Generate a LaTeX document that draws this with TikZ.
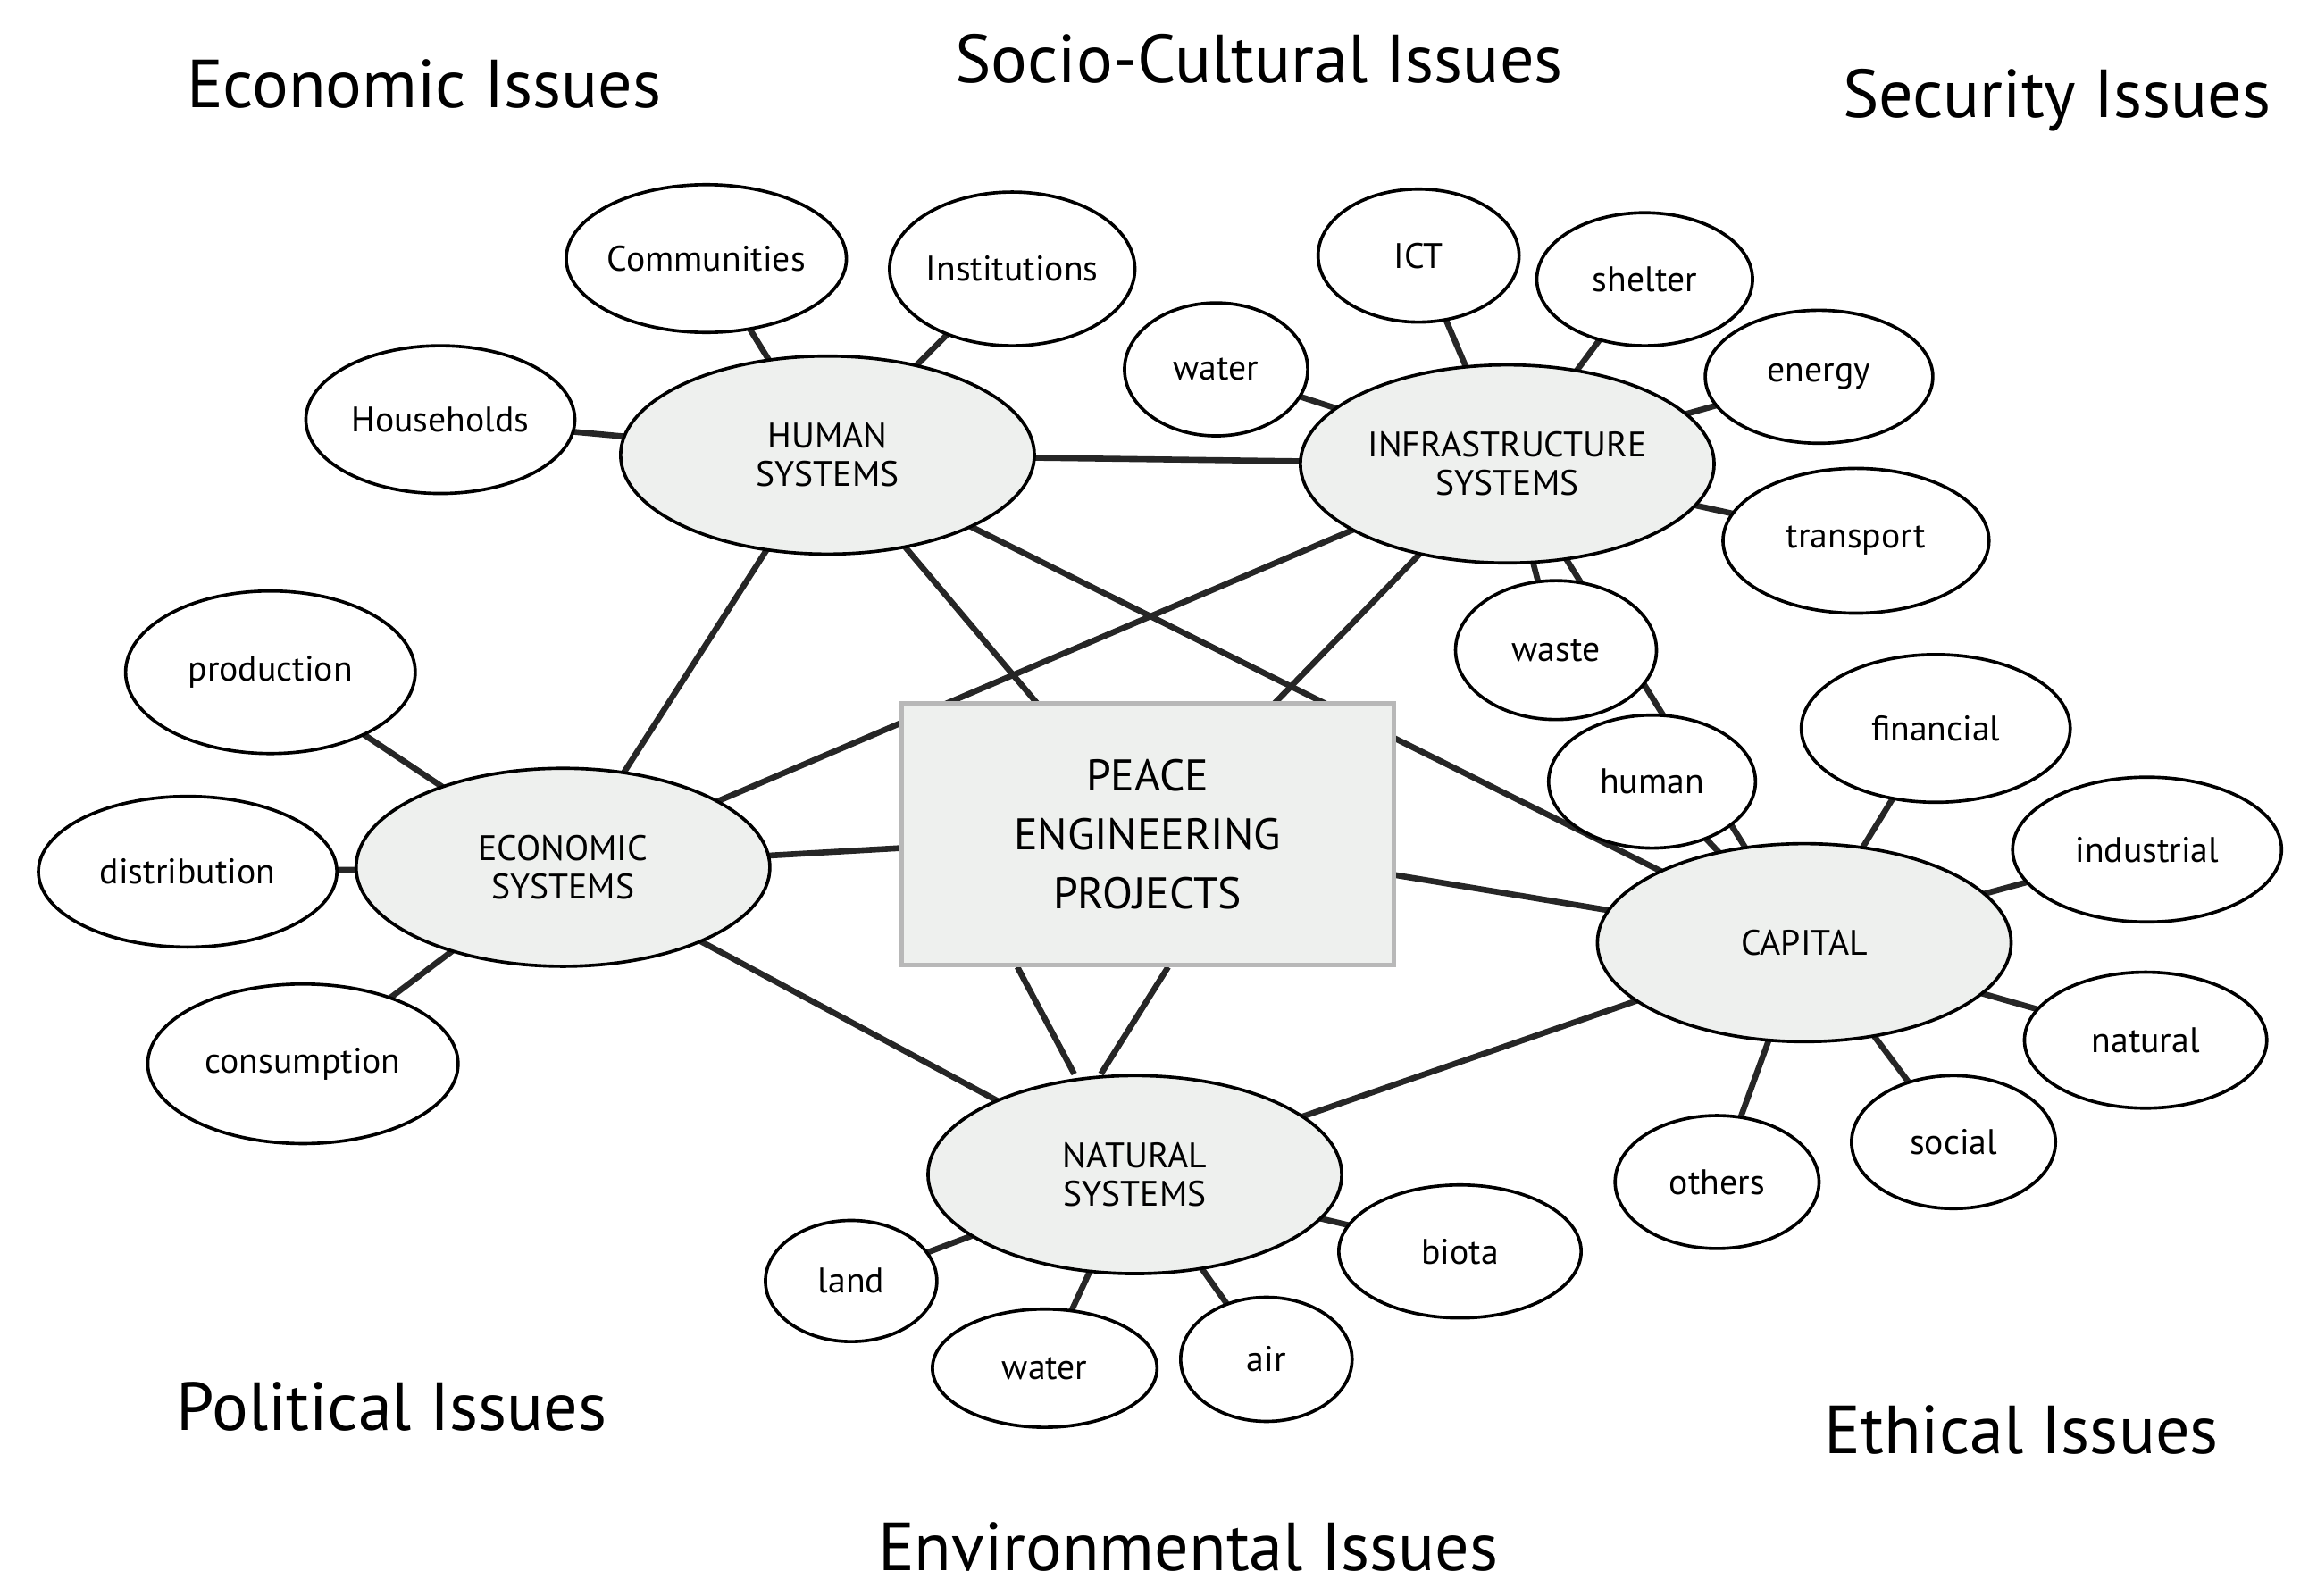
\documentclass[tikz,border=0pt]{standalone}
\usepackage{fontspec}
\setmainfont{PT Sans}
\usetikzlibrary{shapes.geometric,backgrounds,calc}
\definecolor{sysfill}{HTML}{EEF0EE}
\definecolor{boxline}{HTML}{B8B8B8}
\tikzset{
  el/.style 2 args={draw=black, line width=1.1pt, ellipse, fill=white, inner sep=0pt, minimum width=#1pt, minimum height=#2pt, font=\fontsize{12}{13}\selectfont, align=center},
  sys/.style={el={140}{67}, fill=sysfill},
  conn/.style={line width=2pt, draw=black!85},
  issue/.style={font=\fontsize{23}{26}\selectfont}
}
\begin{document}
\begin{tikzpicture}[x=0.5pt,y=-0.5pt]
\useasboundingbox (0,0) rectangle (1568,1080);
\node[issue] (t1) at (287,57) {Economic Issues};
\node[issue] (t2) at (852,40) {Socio-Cultural Issues};
\node[issue] (t3) at (1392,68) {Security Issues};
\node[issue] (t4) at (265,952) {Political Issues};
\node[issue] (t5) at (804,1047) {Environmental Issues};
\node[issue] (t6) at (1368,968) {Ethical Issues};

\node[sys] (hum) at (560,308) {HUMAN\\SYSTEMS};
\node[sys] (inf) at (1020,314) {INFRASTRUCTURE\\SYSTEMS};
\node[sys] (eco) at (381,587) {ECONOMIC\\SYSTEMS};
\node[sys] (cap) at (1221,638) {CAPITAL};
\node[sys] (nat) at (768,795) {NATURAL\\SYSTEMS};
\node[draw=boxline, line width=1.5pt, fill=sysfill, minimum width=333pt*0.5, minimum height=177pt*0.5, align=center, font=\fontsize{15}{20}\selectfont] (pe) at (776.5,564.5) {PEACE\\ENGINEERING\\PROJECTS};

\node[el={88}{50}] (comm) at (478,175) {Communities};
\node[el={83}{52}] (inst) at (685,182) {Institutions};
\node[el={91}{50}] (hh) at (298,284) {Households};
\node[el={62}{45}] (wat1) at (823,250) {water};
\node[el={68}{45}] (ict) at (960,173) {ICT};
\node[el={73}{45}] (she) at (1113,189) {shelter};
\node[el={77}{45}] (ene) at (1231,255) {energy};
\node[el={90}{49}] (tra) at (1256,366) {transport};
\node[el={68}{47}] (was) at (1053,440) {waste};
\node[el={98}{55}] (pro) at (183,455) {production};
\node[el={101}{51}] (dis) at (127,590) {distribution};
\node[el={105}{54}] (con) at (205,720) {consumption};
\node[el={70}{45}] (hmn) at (1118,529) {human};
\node[el={91}{50}] (fin) at (1310,493) {financial};
\node[el={91}{49}] (ind) at (1453,575) {industrial};
\node[el={82}{46}] (natc) at (1452,704) {natural};
\node[el={69}{45}] (soc) at (1322,773) {social};
\node[el={69}{45}] (oth) at (1162,800) {others};
\node[el={58}{41}] (land) at (576,867) {land};
\node[el={76}{40}] (wat2) at (707,926) {water};
\node[el={58}{42}] (air) at (857,920) {air};
\node[el={82}{45}] (bio) at (988,847) {biota};

\begin{pgfonlayer}{background}
\foreach \a/\b in {hum/comm,hum/inst,hum/hh,inf/wat1,inf/ict,inf/she,inf/ene,inf/tra,inf/was,
  eco/pro,eco/dis,eco/con,cap/hmn,cap/fin,cap/ind,cap/natc,cap/soc,cap/oth,
  nat/land,nat/wat2,nat/air,nat/bio,
  hum/inf,hum/eco,hum/pe,hum/cap,inf/eco,inf/pe,inf/cap,eco/pe,eco/nat,pe/cap,cap/nat}
  \draw[conn] (\a.center) -- (\b.center);
\draw[conn] ($(pe.south)+(-88,0)$) -- ($(nat.north)+(-41,0)$);
\draw[conn] ($(pe.south)+(14,0)$) -- ($(nat.north)+(-23,0)$);
\end{pgfonlayer}
\end{tikzpicture}
\end{document}
